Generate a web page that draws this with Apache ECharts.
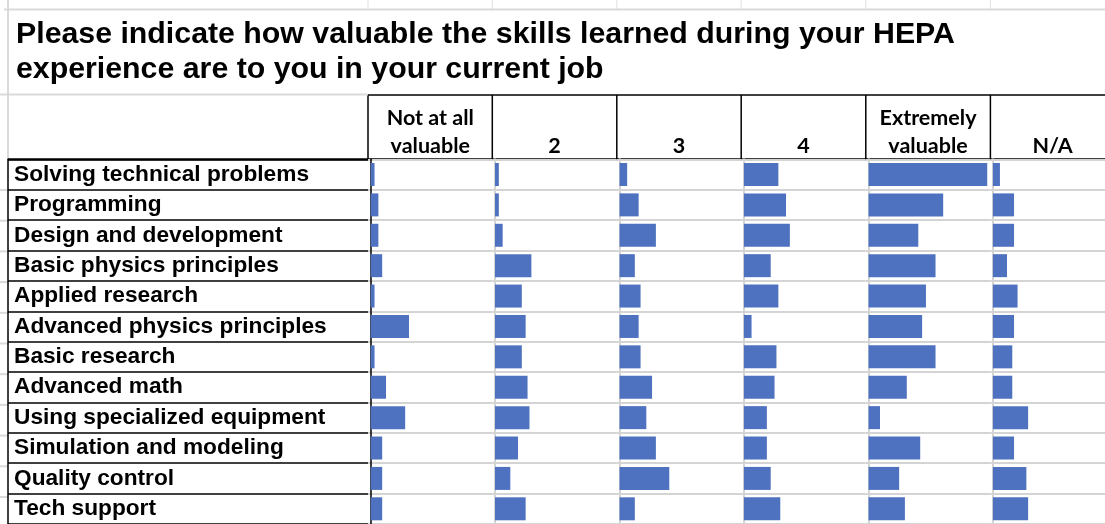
<!DOCTYPE html>
<html lang="en">
<head>
    <meta charset="utf-8">
    <script src="https://cdn.jsdelivr.net/npm/echarts@6/dist/echarts.min.js"></script>
    <title>HEPA skills</title>
    <style>
        html, body { margin: 0; padding: 0; background: #fff; }
        #main { width: 1105px; height: 524px; }
    </style>
</head>
<body>
<div id="main"></div>
<script>
    var skills = ['Solving technical problems', 'Programming', 'Design and development',
        'Basic physics principles', 'Applied research', 'Advanced physics principles',
        'Basic research', 'Advanced math', 'Using specialized equipment',
        'Simulation and modeling', 'Quality control', 'Tech support'];
    var columns = ['Not at all\nvaluable', '2', '3', '4', 'Extremely\nvaluable', 'N/A'];

    // one list per rating column, rows in the order of skills
    var notAtAll  = [2, 4, 4, 6, 2, 20, 2, 8, 18, 6, 6, 6];
    var two       = [2, 2, 4, 19, 14, 16, 14, 17, 18, 12, 8, 16];
    var three     = [4, 10, 19, 8, 11, 10, 11, 17, 14, 19, 26, 8];
    var four      = [18, 22, 24, 14, 18, 4, 17, 16, 12, 12, 14, 19];
    var extremely = [62, 39, 26, 35, 30, 28, 35, 20, 6, 27, 16, 19];
    var na        = [4, 12, 12, 8, 14, 12, 11, 11, 20, 12, 19, 20];
    var values = [notAtAll, two, three, four, extremely, na];

    // table layout
    var colX = [368, 492.3, 616.8, 741.2, 865.8, 990.4];
    var colW = 124.5;
    var tableTop = 159.3, rowH = 30.7, headTop = 95;
    var unit = 1.915, pad = 2.7;

    var grid = [], xAxis = [], yAxis = [], series = [], titles = [], graphic = [];

    titles.push({
        text: 'Please indicate how valuable the skills learned during your HEPA\nexperience are to you in your current job',
        left: 16, top: 17, padding: 0,
        textStyle: {fontFamily: 'Liberation Sans', fontWeight: 'bold', fontSize: 30.3, lineHeight: 35, color: '#000'}
    });

    // label column
    grid.push({left: 8, top: tableTop, width: colX[0] - 8, height: rowH * skills.length});
    xAxis.push({type: 'value', gridIndex: 0, show: false});
    yAxis.push({
        type: 'category', gridIndex: 0, data: skills, inverse: true,
        axisTick: {show: false},
        axisLine: {show: true, lineStyle: {color: '#000', width: 1.5}},
        splitLine: {show: true, lineStyle: {color: '#000', width: 1.5}},
        axisLabel: {
            inside: true, margin: 6, color: '#000', fontFamily: 'Liberation Sans',
            fontWeight: 'bold', fontSize: 22.7, verticalAlign: 'middle', padding: [4, 0, 0, 0]
        }
    });

    columns.forEach(function (name, i) {
        var gi = i + 1;
        grid.push({left: colX[i], top: tableTop, width: colW, height: rowH * skills.length});
        xAxis.push({
            type: 'value', gridIndex: gi, min: -pad / unit, max: (colW - pad) / unit,
            show: false
        });
        yAxis.push({
            type: 'category', gridIndex: gi, data: skills, inverse: true,
            axisTick: {show: false},
            axisLabel: {show: false},
            axisLine: {show: true, lineStyle: {color: i === 0 ? '#000' : '#d4d4d4', width: i === 0 ? 1.5 : 2}},
            splitLine: {show: true, lineStyle: {color: '#d4d4d4', width: 2}}
        });
        series.push({
            type: 'bar', name: name, xAxisIndex: gi, yAxisIndex: gi,
            data: values[i], barWidth: 23, silent: true,
            itemStyle: {color: '#4e72bf'}
        });
        var twoLines = name.indexOf('\n') >= 0;
        titles.push({
            text: name,
            left: colX[i] + colW / 2, top: twoLines ? 104 : 132, padding: 0,
            textAlign: 'center',
            textStyle: {fontFamily: 'Lato', fontWeight: 'bold', fontSize: 21.5, lineHeight: 28, color: '#000'}
        });
        // header cell border
        graphic.push({type: 'line', shape: {x1: colX[i], y1: headTop, x2: colX[i], y2: tableTop},
            style: {stroke: '#000', lineWidth: 1.5}});
        // faint sheet gridline tick above the title
        graphic.push({type: 'line', shape: {x1: colX[i], y1: 0, x2: colX[i], y2: 9},
            style: {stroke: '#e0e0e0', lineWidth: 1}});
    });

    // sheet gridlines and header borders
    graphic.push({type: 'line', shape: {x1: 4, y1: 9.5, x2: 1105, y2: 9.5}, style: {stroke: '#dadada', lineWidth: 2}});
    graphic.push({type: 'line', shape: {x1: 8, y1: 0, x2: 8, y2: tableTop}, style: {stroke: '#dadada', lineWidth: 2}});
    graphic.push({type: 'line', shape: {x1: 0, y1: headTop - 0.5, x2: colX[0], y2: headTop - 0.5}, style: {stroke: '#dadada', lineWidth: 2}});
    graphic.push({type: 'line', shape: {x1: colX[0], y1: headTop, x2: 1105, y2: headTop}, style: {stroke: '#000', lineWidth: 1.5}});
    graphic.push({type: 'line', shape: {x1: 8, y1: tableTop, x2: 1105, y2: tableTop}, style: {stroke: '#000', lineWidth: 2}});
    for (var r = 1; r <= skills.length; r++) {
        graphic.push({type: 'line', shape: {x1: 0, y1: tableTop + r * rowH, x2: 8, y2: tableTop + r * rowH},
            style: {stroke: '#dadada', lineWidth: 2}});
    }

    var myChart = echarts.init(document.getElementById('main'));
    myChart.setOption({
        backgroundColor: '#fff',
        animation: false,
        title: titles,
        grid: grid,
        xAxis: xAxis,
        yAxis: yAxis,
        series: series,
        graphic: graphic
    });
</script>
</body>
</html>
